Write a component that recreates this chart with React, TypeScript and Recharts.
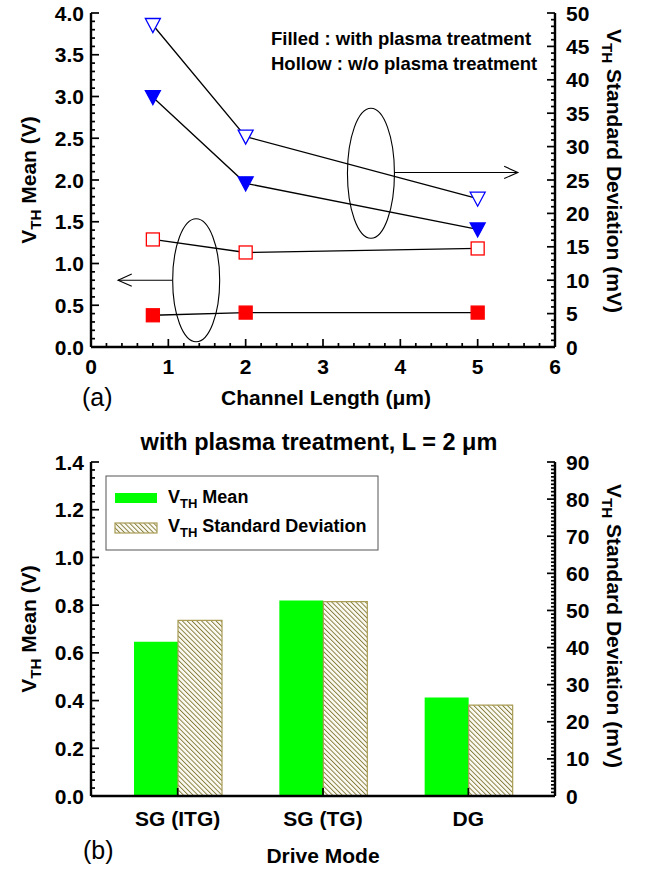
import React from 'react';
import {
  ComposedChart,
  BarChart,
  Bar,
  Line,
  XAxis,
  YAxis,
  ReferenceDot,
  ReferenceLine,
} from 'recharts';

// (a) channel length sweep
const channelLength = [0.8, 2, 5];
const meanWithPlasma = [0.38, 0.412, 0.412];
const meanWithoutPlasma = [1.288, 1.132, 1.18];
const sdWithPlasma = [37.4, 24.5, 17.6];
const sdWithoutPlasma = [48.2, 31.5, 22.2];

const lengthTicks = [0, 1, 2, 3, 4, 5, 6];
const meanTicksA = [0, 0.5, 1, 1.5, 2, 2.5, 3, 3.5, 4];
const sdTicksA = [0, 5, 10, 15, 20, 25, 30, 35, 40, 45, 50];

// annotation anchors (data units, left axis)
const leftEllipse = { x: 1.36, y: 0.8 };
const rightEllipse = { x: 3.62, y: 2.08 };
const leftArrow = [{ x: 1.05, y: 0.8 }, { x: 0.35, y: 0.8 }];
const rightArrow = [{ x: 3.92, y: 2.09 }, { x: 5.52, y: 2.09 }];

// (b) drive mode, L = 2 um
const driveModes = ['SG (ITG)', 'SG (TG)', 'DG'];
const meanByMode = [0.647, 0.819, 0.413];
const sdByMode = [47.3, 52.4, 24.5];

const meanTicksB = [0, 0.2, 0.4, 0.6, 0.8, 1.0, 1.2, 1.4];
const sdTicksB = [0, 10, 20, 30, 40, 50, 60, 70, 80, 90];

const FONT = "'Liberation Sans', Arial, Helvetica, sans-serif";

const rowsA = channelLength.map((x, i) => ({
  x,
  meanWith: meanWithPlasma[i],
  meanWithout: meanWithoutPlasma[i],
  sdWith: sdWithPlasma[i],
  sdWithout: sdWithoutPlasma[i],
}));

const rowsB = driveModes.map((mode, i) => ({
  mode,
  mean: meanByMode[i],
  sd: sdByMode[i],
}));

function withMinor(majors: number[], parts: number) {
  const out: number[] = [];
  for (let i = 0; i < majors.length; i++) {
    out.push(majors[i]);
    if (i < majors.length - 1) {
      const step = (majors[i + 1] - majors[i]) / parts;
      for (let k = 1; k < parts; k++) out.push(+(majors[i] + step * k).toFixed(6));
    }
  }
  return out;
}

type Side = 'left' | 'right' | 'bottom' | 'top';

function makeTick(side: Side, majors: (number | string)[], fmt: (v: any) => string, labelGap = 8) {
  return (props: any) => {
    const { x, y, payload } = props;
    const v = payload.value;
    const isMajor = majors.some((m) =>
      typeof m === 'number' ? Math.abs(m - v) < 1e-6 : m === v
    );
    const len = isMajor ? 8 : 4;
    const txt = {
      fontFamily: FONT,
      fontWeight: 700,
      fontSize: 21,
      fill: '#000',
    } as const;
    if (side === 'left') {
      return (
        <g>
          <line x1={x} y1={y} x2={x + len} y2={y} stroke="#000" strokeWidth={1.7} />
          {isMajor && (
            <text x={x - labelGap} y={y} dy="0.36em" textAnchor="end" {...txt}>
              {fmt(v)}
            </text>
          )}
        </g>
      );
    }
    if (side === 'right') {
      return (
        <g>
          <line x1={x} y1={y} x2={x - len} y2={y} stroke="#000" strokeWidth={1.7} />
          {isMajor && (
            <text x={x + labelGap} y={y} dy="0.36em" textAnchor="start" {...txt}>
              {fmt(v)}
            </text>
          )}
        </g>
      );
    }
    if (side === 'bottom') {
      return (
        <g>
          {len > 0 && <line x1={x} y1={y} x2={x} y2={y - len} stroke="#000" strokeWidth={1.7} />}
          {isMajor && (
            <text x={x} y={y + labelGap} dy="0.36em" textAnchor="middle" {...txt}>
              {fmt(v)}
            </text>
          )}
        </g>
      );
    }
    return <line x1={x} y1={y} x2={x} y2={y + len} stroke="#000" strokeWidth={1.7} />;
  };
}

const SquareDot = (filled: boolean) => (props: any) => {
  const { cx, cy, index } = props;
  return (
    <rect
      key={index}
      x={cx - 6.5}
      y={cy - 6.5}
      width={13}
      height={13}
      fill={filled ? '#ff0000' : '#fff'}
      stroke="#ff0000"
      strokeWidth={1.3}
    />
  );
};

const TriangleDot = (filled: boolean) => (props: any) => {
  const { cx, cy, index } = props;
  return (
    <polygon
      key={index}
      points={`${cx - 7.5},${cy - 6.5} ${cx + 7.5},${cy - 6.5} ${cx},${cy + 7.5}`}
      fill={filled ? '#0000ff' : '#fff'}
      stroke="#0000ff"
      strokeWidth={1.3}
    />
  );
};

const EllipseShape = (ry: number) => (props: any) => (
  <ellipse cx={props.cx} cy={props.cy} rx={23.5} ry={ry} fill="none" stroke="#000" strokeWidth={1.1} />
);

const ArrowShape = (props: any) => {
  const { x1, y1, x2, y2 } = props;
  const a = Math.atan2(y2 - y1, x2 - x1);
  const h = 15;
  const w = 0.42;
  const p1 = `${x2 - h * Math.cos(a - w)},${y2 - h * Math.sin(a - w)}`;
  const p2 = `${x2 - h * Math.cos(a + w)},${y2 - h * Math.sin(a + w)}`;
  return (
    <g stroke="#000" strokeWidth={1.1} fill="none">
      <line x1={x1} y1={y1} x2={x2} y2={y2} />
      <polyline points={`${p1} ${x2},${y2} ${p2}`} />
    </g>
  );
};

const axisLine = { stroke: '#000', strokeWidth: 2.4 };

function Vth({ x, y, size, rotate, rest }: { x: number; y: number; size: number; rotate: number; rest: string }) {
  return (
    <text
      x={0}
      y={0}
      transform={`translate(${x},${y}) rotate(${rotate})`}
      textAnchor="middle"
      dy="0.36em"
      fontFamily={FONT}
      fontWeight={700}
      fontSize={size}
      fill="#000"
    >
      <tspan>V</tspan>
      <tspan dy={size * 0.28} fontSize={size * 0.72}>TH</tspan>
      <tspan dy={-size * 0.28}>{rest}</tspan>
    </text>
  );
}

export default function App() {
  const textBold = { fontFamily: FONT, fontWeight: 700, fill: '#000' } as const;
  return (
    <div style={{ position: 'absolute', left: 0, top: 0, width: 646, height: 873, background: '#fff' }}>
      <div style={{ position: 'absolute', left: 0, top: 0 }}>
        <ComposedChart width={646} height={420} data={rowsA} margin={{ top: 13, right: 0, bottom: 0, left: 0 }}>
          <XAxis
            dataKey="x"
            type="number"
            domain={[0, 6]}
            ticks={withMinor(lengthTicks, 5)}
            interval={0}
            height={73}
            tickSize={0}
            tickMargin={0}
            tickLine={false}
            axisLine={axisLine}
            tick={makeTick('bottom', lengthTicks, (v) => String(v), 19)}
          />
          <XAxis
            xAxisId="top"
            orientation="top"
            type="number"
            domain={[0, 6]}
            ticks={withMinor(lengthTicks, 5)}
            interval={0}
            height={0}
            tickSize={0}
            tickMargin={0}
            tickLine={false}
            axisLine={axisLine}
            tick={makeTick('top', lengthTicks, (v) => String(v))}
          />
          <YAxis
            yAxisId="left"
            domain={[0, 4]}
            ticks={withMinor(meanTicksA, 5)}
            interval={0}
            width={91}
            tickSize={0}
            tickMargin={0}
            tickLine={false}
            axisLine={axisLine}
            tick={makeTick('left', meanTicksA, (v) => v.toFixed(1), 7)}
          />
          <YAxis
            yAxisId="right"
            orientation="right"
            domain={[0, 50]}
            ticks={withMinor(sdTicksA, 5)}
            interval={0}
            width={91}
            tickSize={0}
            tickMargin={0}
            tickLine={false}
            axisLine={axisLine}
            tick={makeTick('right', sdTicksA, (v) => String(v), 11)}
          />
          <ReferenceDot yAxisId="left" x={leftEllipse.x} y={leftEllipse.y} shape={EllipseShape(61.5)} />
          <ReferenceDot yAxisId="left" x={rightEllipse.x} y={rightEllipse.y} shape={EllipseShape(65)} />
          <ReferenceLine yAxisId="left" segment={leftArrow} shape={ArrowShape} />
          <ReferenceLine yAxisId="left" segment={rightArrow} shape={ArrowShape} />
          <Line
            yAxisId="right"
            dataKey="sdWithout"
            type="linear"
            stroke="#000"
            strokeWidth={1.3}
            dot={TriangleDot(false)}
            isAnimationActive={false}
          />
          <Line
            yAxisId="right"
            dataKey="sdWith"
            type="linear"
            stroke="#000"
            strokeWidth={1.3}
            dot={TriangleDot(true)}
            isAnimationActive={false}
          />
          <Line
            yAxisId="left"
            dataKey="meanWithout"
            type="linear"
            stroke="#000"
            strokeWidth={1.3}
            dot={SquareDot(false)}
            isAnimationActive={false}
          />
          <Line
            yAxisId="left"
            dataKey="meanWith"
            type="linear"
            stroke="#000"
            strokeWidth={1.3}
            dot={SquareDot(true)}
            isAnimationActive={false}
          />
        </ComposedChart>
      </div>

      <div style={{ position: 'absolute', left: 0, top: 420 }}>
        <BarChart width={646} height={453} data={rowsB} barGap={0} margin={{ top: 42, right: 0, bottom: 0, left: 0 }}>
          <defs>
            <pattern id="hatchB" patternUnits="userSpaceOnUse" width={3.4} height={3.4} patternTransform="rotate(-45)">
              <rect width={3.4} height={3.4} fill="#fdfcf4" />
              <line x1={0} y1={0} x2={0} y2={3.4} stroke="#857b3a" strokeWidth={1.9} />
            </pattern>
          </defs>
          <XAxis
            dataKey="mode"
            height={77}
            padding={{ left: 14, right: 14 }}
            interval={0}
            tickSize={0}
            tickMargin={0}
            tickLine={false}
            axisLine={axisLine}
            tick={makeTick('bottom', driveModes, (v) => String(v), 22)}
          />
          <XAxis
            xAxisId="top"
            dataKey="mode"
            orientation="top"
            height={0}
            padding={{ left: 14, right: 14 }}
            interval={0}
            tickSize={0}
            tickMargin={0}
            tickLine={false}
            axisLine={axisLine}
            tick={makeTick('top', driveModes, (v) => String(v))}
          />
          <YAxis
            yAxisId="left"
            domain={[0, 1.4]}
            ticks={withMinor(meanTicksB, 6)}
            interval={0}
            width={91}
            tickSize={0}
            tickMargin={0}
            tickLine={false}
            axisLine={axisLine}
            tick={makeTick('left', meanTicksB, (v) => v.toFixed(1), 7)}
          />
          <YAxis
            yAxisId="right"
            orientation="right"
            domain={[0, 90]}
            ticks={withMinor(sdTicksB, 10)}
            interval={0}
            width={91}
            tickSize={0}
            tickMargin={0}
            tickLine={false}
            axisLine={axisLine}
            tick={makeTick('right', sdTicksB, (v) => String(v), 11)}
          />
          <Bar yAxisId="left" dataKey="mean" fill="#00ff00" barSize={44} isAnimationActive={false} />
          <Bar
            yAxisId="right"
            dataKey="sd"
            fill="url(#hatchB)"
            stroke="#a99c55"
            strokeWidth={1.2}
            barSize={44}
            isAnimationActive={false}
          />
        </BarChart>
      </div>

      <svg
        width={646}
        height={873}
        style={{ position: 'absolute', left: 0, top: 0, pointerEvents: 'none' }}
      >
        <defs>
          <pattern id="hatchL" patternUnits="userSpaceOnUse" width={3.4} height={3.4} patternTransform="rotate(-45)">
            <rect width={3.4} height={3.4} fill="#fdfcf4" />
            <line x1={0} y1={0} x2={0} y2={3.4} stroke="#857b3a" strokeWidth={1.9} />
          </pattern>
        </defs>

        {/* (a) */}
        <text x={271} y={38} dy="0.36em" fontSize={18.5} {...textBold}>Filled : with plasma treatment</text>
        <text x={271} y={63} dy="0.36em" fontSize={18.5} {...textBold}>Hollow : w/o plasma treatment</text>
        <Vth x={28} y={180} size={21} rotate={-90} rest=" Mean (V)" />
        <Vth x={615} y={171} size={21} rotate={90} rest=" Standard Deviation (mV)" />
        <text x={326} y={397} dy="0.36em" textAnchor="middle" fontSize={21} {...textBold}>Channel Length (μm)</text>
        <text x={82} y={397} dy="0.36em" fontSize={25} fontFamily={FONT} fill="#000">(a)</text>

        {/* (b) */}
        <text x={319} y={442} dy="0.36em" textAnchor="middle" fontSize={23.5} {...textBold}>with plasma treatment, L = 2 μm</text>
        <Vth x={28} y={629} size={21} rotate={-90} rest=" Mean (V)" />
        <Vth x={615} y={626} size={21} rotate={90} rest=" Standard Deviation (mV)" />
        <text x={323} y={855} dy="0.36em" textAnchor="middle" fontSize={21} {...textBold}>Drive Mode</text>
        <text x={83} y={850} dy="0.36em" fontSize={25} fontFamily={FONT} fill="#000">(b)</text>

        <rect x={106} y={476} width={272} height={74} fill="#fff" stroke="#555" strokeWidth={1} />
        <rect x={115} y={493} width={42} height={10} fill="#00ff00" />
        <rect x={115} y={523} width={42} height={10} fill="url(#hatchL)" stroke="#a99c55" strokeWidth={1.2} />
        <text x={168} y={503} fontSize={18} {...textBold}>
          <tspan>V</tspan>
          <tspan dy={5} fontSize={13}>TH</tspan>
          <tspan dy={-5}> Mean</tspan>
        </text>
        <text x={168} y={532} fontSize={18} {...textBold}>
          <tspan>V</tspan>
          <tspan dy={5} fontSize={13}>TH</tspan>
          <tspan dy={-5}> Standard Deviation</tspan>
        </text>
      </svg>
    </div>
  );
}
